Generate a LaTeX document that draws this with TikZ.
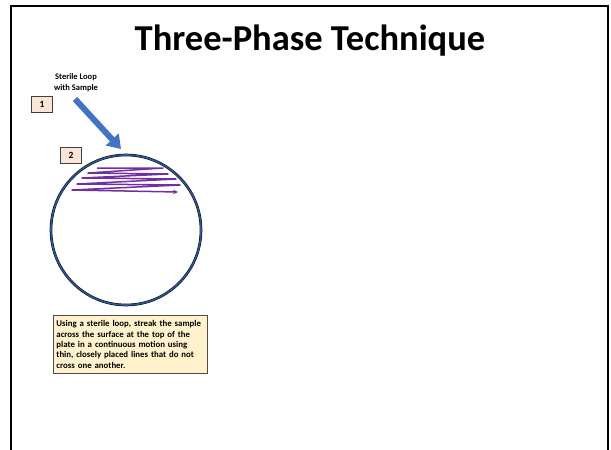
\documentclass[tikz,border=0pt]{standalone}
\usepackage{fontspec}
\setmainfont{Carlito}
\usepackage{xcolor}
\usetikzlibrary{arrows.meta}

\definecolor{loopblue}{HTML}{4472C4}
\definecolor{platerim}{HTML}{2F5597}
\definecolor{streakpurple}{HTML}{7030A0}
\definecolor{stepfill}{HTML}{FBE5D6}
\definecolor{notefill}{HTML}{FFF2CC}

\begin{document}
\begin{tikzpicture}[x=1pt,y=-1pt,
    stepbox/.style={draw=black!75,fill=stepfill,line width=0.8pt,minimum width=21pt,
        minimum height=16pt,inner sep=0pt,font=\bfseries\fontsize{9.5}{9.5}\selectfont},
    notebox/.style={draw=black!70,fill=notefill,line width=0.9pt,anchor=north west,
        text width=148pt,minimum width=154pt,minimum height=58pt,inner xsep=3pt,inner ysep=3pt,
        align=left,font=\bfseries\fontsize{8.8}{10.3}\selectfont}]
            \useasboundingbox (0,0) rectangle (611,450);
            %
            \draw[line width=2.5pt] (11,455) -- (11,6) -- (608,6) -- (608,455);
            \node (title) at (310,41) {\bfseries\fontsize{36.5}{40}\selectfont Three-Phase Technique};
            %
            \node[font=\bfseries\fontsize{8.5}{11}\selectfont,align=center] (looplabel) at (76,83) {Sterile Loop\\with Sample};
            \node[stepbox] (stepone) at (42,104) {1};
            \node[stepbox] (steptwo) at (71,155) {2};
            %
            \coordinate (looptail) at (75,99);
            \coordinate (looptip) at (121,149);
            \draw[loopblue,line width=6pt,-{Triangle[width=17pt,length=13pt]}] (looptail) -- (looptip);
            %
            \node (plate) at (126,230) [circle,draw=black,double=platerim,double distance=1.6pt,
                line width=0.5pt,minimum size=150pt,inner sep=0pt]{};
            %
            \draw[streakpurple,line width=1.5pt,line join=round,-{Stealth[length=5pt,width=4.5pt]}]
                (97,168) -- (163,168) -- (88,173) -- (168,174) -- (82,178) -- (176,179)
                -- (77,184) -- (180,185) -- (72,190) -- (178,192);
            %
            \node[notebox] (note) at (53,315) {Using a sterile loop, streak the sample\\
                across the surface at the top of the\\
                plate in a continuous motion using\\
                thin, closely placed lines that do not\\
                cross one another.};
\end{tikzpicture}
\end{document}
